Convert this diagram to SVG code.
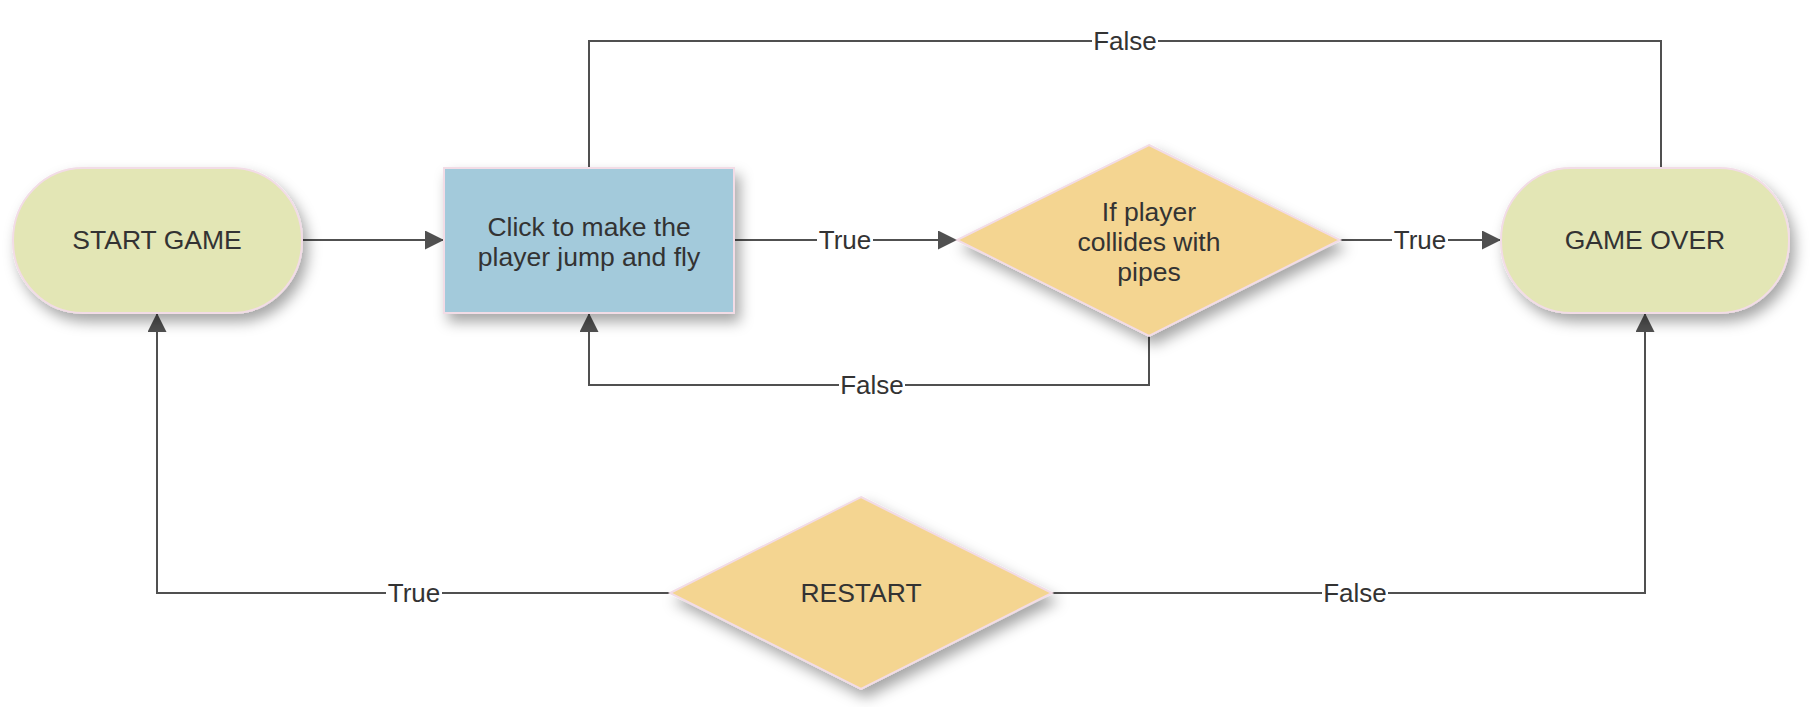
<svg xmlns="http://www.w3.org/2000/svg" width="1819" height="707" viewBox="0 0 1819 707">
  <style>
    .node-text { font-family: "Liberation Sans", Arial, sans-serif; font-size: 26.5px; fill: #333333; text-anchor: middle; }
    .label { font-family: "Liberation Sans", Arial, sans-serif; font-size: 26px; fill: #333333; text-anchor: middle; }
    .label-bg { fill: #ffffff; }
    .conn { fill: none; stroke: #505050; stroke-width: 2; }
    .terminal { fill: #E3E6B5; stroke: #F2DCE6; stroke-width: 2; }
    .process { fill: #A3CADB; stroke: #F2DCE6; stroke-width: 2; }
    .decision { fill: #F4D591; stroke: #F2DCE6; stroke-width: 2; }
  </style>
  <defs>
    <filter id="shadow" x="-20%" y="-20%" width="150%" height="160%">
      <feDropShadow dx="5" dy="8" stdDeviation="7" flood-color="#000000" flood-opacity="0.35"/>
    </filter>
    <marker id="arrow" markerUnits="userSpaceOnUse" markerWidth="20" markerHeight="20" refX="19" refY="9.5" orient="auto">
      <path d="M0,0 L19,9.5 L0,19 Z" fill="#505050"/>
    </marker>
  </defs>
  <rect width="1819" height="707" fill="#ffffff"/>

  <g id="connectors">
    <path class="conn" d="M302,240 L444,240" marker-end="url(#arrow)"/>
    <path class="conn" d="M734,240 L957,240" marker-end="url(#arrow)"/>
    <path class="conn" d="M1340,240 L1501,240" marker-end="url(#arrow)"/>
    <path class="conn" d="M589,168 L589,41 L1661,41 L1661,168"/>
    <path class="conn" d="M1149,336 L1149,385 L589,385 L589,313" marker-end="url(#arrow)"/>
    <path class="conn" d="M670,593 L157,593 L157,313" marker-end="url(#arrow)"/>
    <path class="conn" d="M1052,593 L1645,593 L1645,313" marker-end="url(#arrow)"/>

    <rect class="label-bg" x="817" y="226" width="56" height="28"/>
    <text class="label" x="845" y="249">True</text>
    <rect class="label-bg" x="1392" y="226" width="56" height="28"/>
    <text class="label" x="1420" y="249">True</text>
    <rect class="label-bg" x="1092" y="27" width="66" height="28"/>
    <text class="label" x="1125" y="50">False</text>
    <rect class="label-bg" x="839" y="371" width="66" height="28"/>
    <text class="label" x="872" y="394">False</text>
    <rect class="label-bg" x="386" y="579" width="56" height="28"/>
    <text class="label" x="414" y="602">True</text>
    <rect class="label-bg" x="1322" y="579" width="66" height="28"/>
    <text class="label" x="1355" y="602">False</text>
  </g>

  <g id="start-game">
    <rect class="terminal" x="13" y="168" width="289" height="145" rx="70" ry="72" filter="url(#shadow)"/>
    <text class="node-text" x="157" y="249">START GAME</text>
  </g>

  <g id="click-jump">
    <rect class="process" x="444" y="168" width="290" height="145" filter="url(#shadow)"/>
    <text class="node-text" x="589" y="236">Click to make the</text>
    <text class="node-text" x="589" y="266">player jump and fly</text>
  </g>

  <g id="collides">
    <polygon class="decision" points="1149,145 1340,240 1149,336 957,240" filter="url(#shadow)"/>
    <text class="node-text" x="1149" y="221">If player</text>
    <text class="node-text" x="1149" y="251">collides with</text>
    <text class="node-text" x="1149" y="281">pipes</text>
  </g>

  <g id="game-over">
    <rect class="terminal" x="1501" y="168" width="288" height="145" rx="70" ry="72" filter="url(#shadow)"/>
    <text class="node-text" x="1645" y="249">GAME OVER</text>
  </g>

  <g id="restart">
    <polygon class="decision" points="861,497 1052,593 861,689 670,593" filter="url(#shadow)"/>
    <text class="node-text" x="861" y="602">RESTART</text>
  </g>
</svg>
